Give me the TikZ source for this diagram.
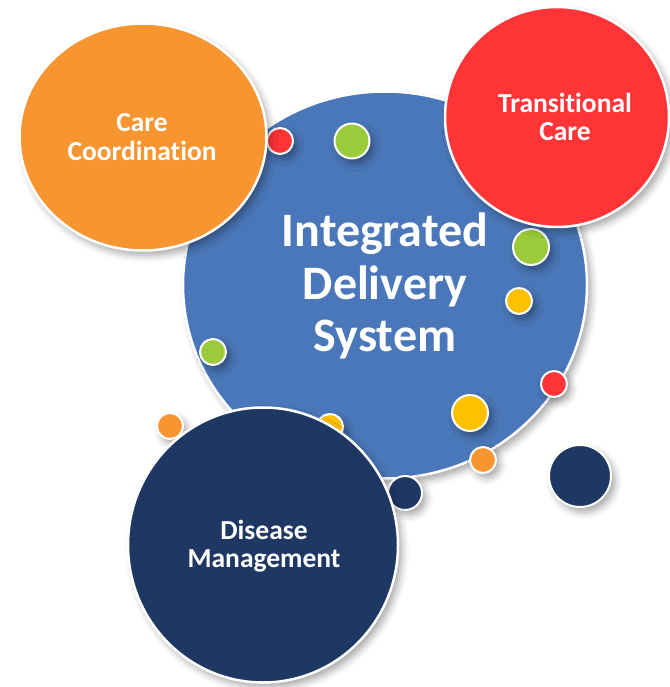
\documentclass[tikz,border=0pt]{standalone}
\usepackage{fontspec}
\setmainfont{Carlito}[Ligatures=NoCommon]
\usetikzlibrary{shapes.geometric,shadows.blur}
\definecolor{cblue}{HTML}{4A77B9}
\definecolor{corange}{HTML}{F79530}
\definecolor{cred}{HTML}{FF3437}
\definecolor{cnavy}{HTML}{1F3763}
\definecolor{cgreen}{HTML}{9BCB3A}
\definecolor{cyellow}{HTML}{FFC000}
\begin{document}
\begin{tikzpicture}[x=1pt,y=-1pt,
  shad/.style={blur shadow={shadow xshift=4pt, shadow yshift=-5pt, shadow blur radius=7pt, shadow opacity=35}},
  big/.style={ellipse, draw=white, line width=2.5pt, inner sep=0pt, shad},
  dot/.style={circle, draw=white, line width=2pt, inner sep=0pt, minimum size=#1, shad},
  lbl/.style={text=white, align=center, inner sep=0pt}]
\useasboundingbox (0,0) rectangle (669,687);
% central circle
\node[big, fill=cblue, minimum width=404pt, minimum height=387pt] (ids) at (385,285) {};
% dots behind the disease circle
\node[dot=26pt, fill=cyellow] (y3) at (330,427) {};
\node[dot=34pt, fill=cnavy] (n1) at (405,493) {};
% dots on the central circle
\node[dot=26pt, fill=cred] (r1) at (280,141) {};
\node[dot=35pt, fill=cgreen] (g1) at (352,141) {};
\node[dot=36pt, fill=cgreen] (g2) at (531,247) {};
\node[dot=26pt, fill=cyellow] (y1) at (519,301) {};
\node[dot=26pt, fill=cred] (r2) at (554,384) {};
\node[dot=36pt, fill=cyellow] (y2) at (470,413) {};
\node[dot=26pt, fill=corange] (o2) at (483,460) {};
\node[dot=26pt, fill=cgreen] (g3) at (213,352) {};
\node[dot=26pt, fill=corange] (o3) at (170,426) {};
\node[dot=62pt, fill=cnavy] (n2) at (580,476) {};
% outer circles
\node[big, fill=corange, minimum width=247pt, minimum height=227pt] (cc) at (143,137) {};
\node[big, fill=cred, minimum width=224pt, minimum height=220pt] (tc) at (557,117) {};
\node[big, fill=cnavy, minimum width=270pt, minimum height=275pt] (dm) at (263,545) {};
% labels
\node[lbl, font=\bfseries\fontsize{48}{52.5}\selectfont] (tids) at (385,286) {Integrated\\Delivery\\System};
\node[lbl, font=\bfseries\fontsize{27.5}{28.5}\selectfont] (tcc) at (142,137) {Care\\Coordination};
\node[lbl, font=\bfseries\fontsize{27.5}{28.5}\selectfont] (ttc) at (565,117) {Transitional\\Care};
\node[lbl, font=\bfseries\fontsize{27.5}{28.5}\selectfont] (tdm) at (264,546) {Disease\\Management};
\end{tikzpicture}
\end{document}
